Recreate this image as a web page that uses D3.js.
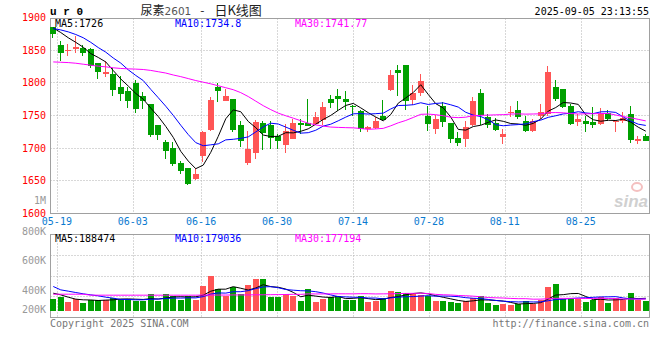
<!DOCTYPE html>
<html>
<head>
<meta charset="utf-8">
<script src="https://cdn.jsdelivr.net/npm/d3@7"></script>
<style>
  body { margin: 0; background: #fff; }
  text { font-family: "DejaVu Sans Mono", monospace; font-size: 10px; }
</style>
</head>
<body>
<svg id="chart" width="660" height="360"></svg>
<script>
// ---- Data ----
const tickIdx = [1, 11, 20, 30, 40, 50, 60, 70];
const tickText = ["05-19", "06-03", "06-16", "06-30", "07-14", "07-28", "08-11", "08-25"];
const priceTicks = [1600, 1650, 1700, 1750, 1800, 1850, 1900];
const volTicks = [200000, 400000, 600000, 800000, 1000000];
const volTickText = ["200K", "400K", "600K", "800K", "1M"];

const open = [1885,1858,1849,1852,1854,1852,1830,1813,1813,1794, 1787,1800,1780,1767,1735,1710,1700,1677,1669,1653,
  1688,1728,1794,1772,1776,1735,1678,1692,1739,1736, 1719,1705,1715,1739,1739,1736,1743,1775,1780,1776,
  1764,1757,1729,1731,1749,1789,1819,1827,1774,1785, 1749,1728,1765,1738,1716,1713,1735,1784,1747,1738,
  1717,1754,1758,1741,1725,1749,1752,1794,1790,1765, 1740,1741,1740,1736,1754,1741,1741,1753,1711,1719];
const high = [1886,1864,1859,1871,1858,1854,1831,1833,1822,1810, 1794,1804,1786,1768,1736,1712,1710,1681,1670,1670,
  1726,1778,1800,1790,1776,1741,1726,1743,1741,1741, 1721,1737,1745,1744,1775,1755,1770,1781,1790,1787,
  1766,1758,1734,1748,1774,1819,1827,1828,1796,1813, 1765,1751,1770,1739,1724,1741,1779,1791,1753,1746,
  1729,1764,1772,1750,1745,1767,1826,1804,1791,1768, 1753,1750,1763,1761,1758,1743,1755,1765,1718,1722];
const low = [1869,1834,1841,1846,1841,1823,1806,1809,1780,1772, 1762,1754,1760,1717,1712,1683,1673,1660,1643,1651,
  1679,1727,1771,1772,1724,1702,1675,1683,1697,1699, 1699,1693,1715,1721,1734,1735,1735,1762,1757,1758,
  1750,1725,1725,1730,1741,1788,1780,1758,1766,1780, 1727,1721,1733,1708,1704,1702,1734,1735,1731,1726,
  1706,1747,1744,1724,1724,1744,1749,1772,1762,1735, 1734,1725,1731,1735,1741,1725,1739,1708,1706,1711];
const close = [1875,1846,1850,1855,1847,1826,1816,1816,1789,1783, 1772,1760,1772,1720,1719,1696,1676,1665,1645,1660,
  1724,1774,1788,1780,1728,1710,1699,1740,1724,1716, 1712,1727,1739,1736,1735,1747,1763,1769,1775,1772,
  1763,1729,1732,1742,1743,1812,1815,1772,1784,1803, 1737,1744,1740,1713,1708,1732,1772,1751,1735,1727,
  1721,1755,1747,1725,1741,1755,1816,1775,1763,1737, 1744,1736,1736,1752,1745,1742,1746,1713,1714,1712];

const ma5 = [1884,1877,1869,1862,1854.5,1844.8,1838.8,1832.0,1818.8,1805.9, 1795.1,1783.8,1775.0,1761.3,1748.5,1733.3,1716.5,1695.2,1680.3,1668.6,
  1674.1,1693.6,1718.1,1745.0,1758.6,1755.8,1740.9,1731.4,1720.1,1717.8, 1718.2,1723.7,1723.4,1725.8,1729.6,1736.7,1744.0,1750.1,1758.0,1765.4,
  1768.5,1761.7,1754.3,1747.7,1741.8,1751.6,1768.9,1776.9,1785.2,1797.1, 1782.2,1768.1,1761.6,1747.6,1728.7,1727.6,1733.1,1735.1,1739.5,1743.2,
  1741.1,1737.7,1737.0,1735.0,1737.9,1744.6,1756.7,1762.2,1769.9,1769.1, 1767.0,1751.1,1743.5,1741.2,1742.7,1742.3,1744.4,1739.8,1732.1,1726.0];
const ma10 = [1883,1881,1878,1874,1869,1862,1854,1847,1838,1830.2, 1819.9,1811.3,1803.5,1790.0,1777.2,1764.2,1750.2,1735.1,1720.8,1708.5,
  1703.7,1705.1,1706.6,1712.7,1713.6,1715.0,1717.3,1724.8,1732.6,1738.2, 1737.0,1732.3,1727.4,1723.0,1723.7,1727.4,1733.8,1736.7,1741.9,1747.5,
  1752.6,1752.9,1752.2,1752.8,1753.6,1760.0,1765.3,1765.6,1766.5,1769.5, 1766.9,1768.5,1769.3,1766.4,1762.9,1754.9,1750.6,1748.4,1743.5,1735.9,
  1734.3,1735.4,1736.1,1737.2,1740.6,1742.9,1747.2,1749.6,1752.4,1753.5, 1755.8,1753.9,1752.9,1755.6,1755.9,1754.7,1747.7,1741.6,1736.7,1734.8];
const ma30 = [1832,1831.5,1831,1830,1828.5,1827,1825.5,1824.5,1823,1822, 1821.4,1821,1820.4,1819,1817,1815,1812,1809.5,1806.5,1803.5,
  1801,1798.5,1795.5,1792.5,1789.5,1785,1779,1772,1765,1759, 1753.6,1749.6,1745.9,1742,1738.2,1735.6,1733.8,1732.3,1731.8,1731.4,
  1731.1,1730.1,1728.8,1729.5,1730.3,1734.2,1738.8,1742.4,1747,1751.8, 1752.2,1751.2,1749.6,1747.4,1746.7,1747.4,1749.9,1750.2,1750.6,1751,
  1751.3,1752.2,1752.5,1752.1,1752.3,1752.6,1754.3,1754.5,1754.1,1753, 1752.3,1752.6,1752.7,1753,1753.1,1750.7,1748.4,1746.5,1744.1,1741.77];

const volume = [179700,210500,138600,174500,118000,169400,169400,169400,195000,179700, 179700,148900,148900,256700,148900,256700,231000,169400,231000,169400,
  379800,533800,328500,231000,364400,256700,395200,487600,487600,210500, 210500,256700,231000,148900,333600,138600,179700,205300,225900,164300,
  164300,225900,133500,148900,195000,302900,287500,272000,251500,241300, 225900,148900,148900,133500,118000,148900,195000,225900,118000,87300,
  102700,87300,102700,148900,102700,164300,364400,410600,179700,179700, 179700,133500,164300,210500,118000,195000,164300,272000,164300,148900];
const vma5 = [267000,241000,205000,175000,164300,162200,154000,160100,164200,176600, 178600,174500,170400,182800,176600,192000,208400,212500,207400,211500,
  236100,296700,328500,328500,367500,342900,315200,347000,398300,367500, 358300,330600,279300,211500,236100,221800,206400,201200,216600,182800,
  187900,197100,182800,167400,173500,201200,213600,241300,261800,271000, 255600,227900,203300,179700,155000,139600,148900,164300,161200,155000,
  145800,124200,99600,105800,108900,121200,176600,238200,244300,259700, 262800,216600,167400,173500,161200,164300,170400,192000,182700,188474];
const vma10 = [370000,318000,298000,277000,257000,241000,226000,205000,190000,170400, 170400,164300,165300,173500,176600,185300,191500,191500,195100,194100,
  214100,252600,270500,268000,289500,289500,305900,337700,363400,367500, 350600,322900,313100,304900,301800,290000,268500,240200,214100,209500,
  204800,201800,192000,192000,178100,194600,205400,212000,214600,222300, 228400,220700,222300,220700,213000,197600,188400,183800,170400,155000,
  142700,136600,131900,133500,131900,133500,150400,168900,175100,184300, 192000,196600,202800,208900,210500,213500,193500,179700,178100,179036];
const vma30 = [251000,251000,251000,251000,251000,236000,236000,236000,236000,236000, 236000,236000,236000,236000,236000,236000,236000,236000,236000,236000,
  238000,238000,238000,238000,240000,240000,240000,242000,242000,244000, 245000,246600,249600,248800,256000,255000,255300,256500,257500,257000,
  256500,259100,258500,255000,256500,258000,259900,263300,264000,266400, 261300,248500,242500,239200,231000,227400,220700,212000,199700,195600,
  192000,186300,182100,182100,174400,175200,181400,188200,186700,187200, 187700,184600,185700,187700,185200,181600,177400,177400,174500,177194];

// ---- Layout ----
const L = 49.5, R = 649.5;
const mainTop = 18.5, mainBot = 213.5;
const volTop = 234.5, volBot = 317.5;
const upColor = "#ff5555", downColor = "#00a000";
const gridColor = "#b0b0b0";
const maColors = ["#000000", "#0000ff", "#ff00ff"];

const svg = d3.select("#chart");
const n = close.length;

// candle slots and the date grid use slightly different steps, as in the source
const x = d3.scaleBand().domain(d3.range(n)).range([L, R]);
const xGrid = d3.scaleLinear().domain([0, n - 1]).range([L + 0.3, R + 0.1]);
const y = d3.scaleLinear().domain([1600, 1900]).range([213.5, 17.5]);
const yVol = d3.scaleLinear().domain([0, 1000000]).range([310.5, 245.6]);
const yVolLabel = d3.scaleLinear().domain(volTicks).range([309.7, 290, 260.7, 231, 200]);

const bodyW = 6;
const bx = i => Math.round(x(i) + (x.bandwidth() - bodyW) / 2);
const cx = i => x(i) + x.bandwidth() / 2;
const crisp = v => Math.floor(v) + 0.5;

// ---- Grid ----
const grid = svg.append("g")
  .attr("stroke", gridColor)
  .attr("stroke-dasharray", "1,2");

tickIdx.forEach(i => {
  const gx = crisp(xGrid(i));
  grid.append("line").attr("x1", gx).attr("x2", gx).attr("y1", mainTop).attr("y2", mainBot);
  grid.append("line").attr("x1", gx).attr("x2", gx).attr("y1", volTop).attr("y2", volBot);
});
priceTicks.slice(1, -1).forEach(v => {
  const gy = crisp(y(v));
  grid.append("line").attr("x1", L + 1).attr("x2", R).attr("y1", gy).attr("y2", gy);
});
d3.range(1, 4).forEach(k => {
  const gy = crisp(volTop + (volBot - volTop) * k / 4);
  grid.append("line").attr("x1", L + 1).attr("x2", R).attr("y1", gy).attr("y2", gy);
});

// ---- Frames ----
[[mainTop, mainBot], [volTop, volBot]].forEach(([t, b]) => {
  svg.append("rect")
    .attr("x", 50.5).attr("y", t)
    .attr("width", R - 50.5).attr("height", b - t)
    .attr("fill", "none").attr("stroke", "#a0a0a0");
});

// ---- Watermark ----
svg.append("text")
  .attr("x", 648).attr("y", 207)
  .attr("text-anchor", "end")
  .style("font-family", "Liberation Sans, sans-serif")
  .style("font-size", "17px").style("font-style", "italic").style("font-weight", "bold")
  .attr("fill", "#d0d0d0")
  .text("sina");
svg.append("ellipse")
  .attr("cx", 637).attr("cy", 187).attr("rx", 5).attr("ry", 4)
  .attr("fill", "none").attr("stroke", "#f4c0c0").attr("stroke-width", 2);

// ---- Candles ----
const candles = svg.append("g").attr("shape-rendering", "crispEdges");
d3.range(n).forEach(i => {
  const up = close[i] >= open[i];
  const col = up ? upColor : downColor;
  const top = y(Math.max(open[i], close[i]));
  const bot = y(Math.min(open[i], close[i]));
  candles.append("line")
    .attr("x1", bx(i) + 2.5).attr("x2", bx(i) + 2.5)
    .attr("y1", y(high[i])).attr("y2", y(low[i]))
    .attr("stroke", col);
  candles.append("rect")
    .attr("x", bx(i)).attr("y", Math.round(top))
    .attr("width", bodyW).attr("height", Math.max(1, Math.round(bot - top)))
    .attr("fill", col);
});

// ---- Volume bars ----
const bars = svg.append("g").attr("shape-rendering", "crispEdges");
bars.selectAll("rect").data(volume).join("rect")
  .attr("x", (d, i) => bx(i))
  .attr("y", d => Math.round(yVol(d)))
  .attr("width", bodyW)
  .attr("height", d => Math.round(yVol(0)) - Math.round(yVol(d)))
  .attr("fill", (d, i) => close[i] >= open[i] ? upColor : downColor);

// ---- MA lines ----
const priceLine = d3.line().x((d, i) => cx(i)).y(d => y(d));
const volLine = d3.line().x((d, i) => cx(i)).y(d => yVol(d));
[ma5, ma10, ma30].forEach((s, k) => {
  svg.append("path").attr("d", priceLine(s))
    .attr("fill", "none").attr("stroke", maColors[k]).attr("stroke-width", 1);
});
[vma5, vma10, vma30].forEach((s, k) => {
  svg.append("path").attr("d", volLine(s))
    .attr("fill", "none").attr("stroke", maColors[k]).attr("stroke-width", 1);
});

// ---- Axis labels ----
svg.append("g").selectAll("text").data(priceTicks).join("text")
  .attr("x", 46).attr("y", d => y(d) + 3.5)
  .attr("text-anchor", "end")
  .attr("fill", "#ff0000")
  .text(d => d);

svg.append("g").selectAll("text").data(volTicks).join("text")
  .attr("x", 46).attr("y", d => yVolLabel(d) + 3.5)
  .attr("text-anchor", "end")
  .attr("fill", "#999999")
  .text((d, i) => volTickText[i]);

svg.append("g").selectAll("text").data(tickIdx).join("text")
  .attr("x", d => xGrid(d) - 0.5).attr("y", 225)
  .attr("text-anchor", "middle")
  .attr("fill", "#0a7ad0")
  .text((d, i) => tickText[i]);

// ---- Header ----
svg.append("text")
  .attr("x", 50).attr("y", 15)
  .style("font-family", "Liberation Mono, monospace")
  .style("font-size", "11px").style("font-weight", "bold")
  .text("u r 0");

const title = svg.append("text").attr("x", 140.5).attr("y", 14.5)
  .style("font-family", "Noto Sans CJK SC, sans-serif").style("font-size", "12px").attr("fill", "#222");
title.append("tspan").text("尿素");
title.append("tspan").style("font-family", "DejaVu Sans, sans-serif").style("font-size", "10.5px").attr("fill", "#555").text("2601");
title.append("tspan").attr("dx", 9).text("-");
title.append("tspan").attr("dx", 10).style("font-size", "13px").text("日K线图");

svg.append("text")
  .attr("x", 649).attr("y", 15)
  .attr("text-anchor", "end")
  .text("2025-09-05 23:13:55");

const maLabels = [["MA5:1726", "MA10:1734.8", "MA30:1741.77"], ["MA5:188474", "MA10:179036", "MA30:177194"]];
[27, 241.5].forEach((ty, r) => {
  maLabels[r].forEach((t, k) => {
    svg.append("text").attr("x", 55 + k * 120).attr("y", ty)
      .attr("fill", maColors[k]).text(t);
  });
});

// ---- Footer ----
svg.append("text").attr("x", 50).attr("y", 327).attr("fill", "#777").text("Copyright 2025 SINA.COM");
svg.append("text").attr("x", 649).attr("y", 327).attr("text-anchor", "end").attr("fill", "#777")
  .text("http://finance.sina.com.cn");
</script>
</body>
</html>
